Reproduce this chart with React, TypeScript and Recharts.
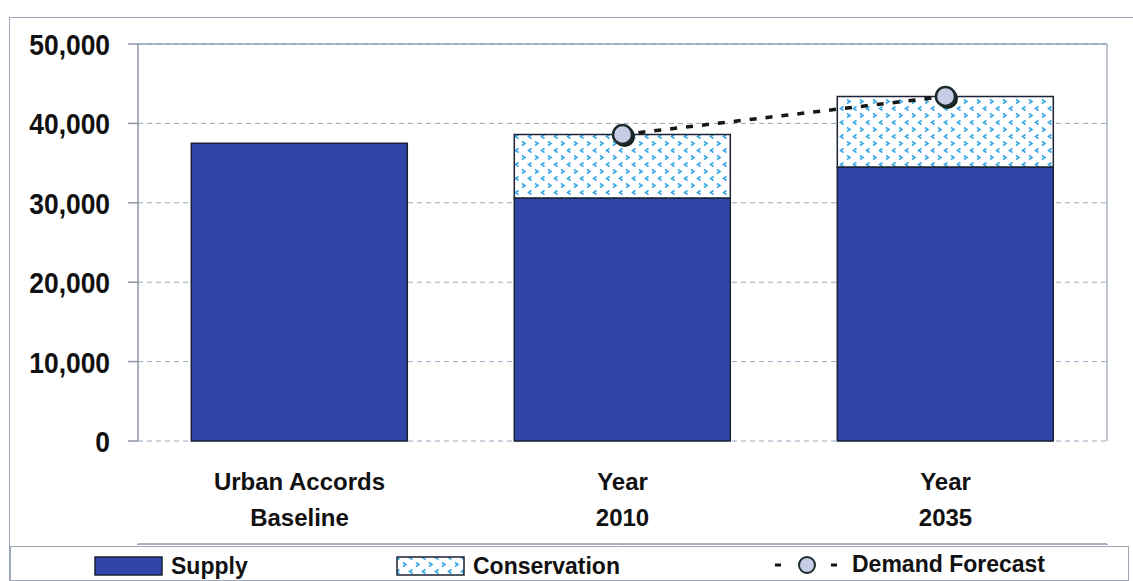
import React from 'react';
import { ComposedChart, Bar, Line, XAxis, YAxis, CartesianGrid, ReferenceLine } from 'recharts';

// acre-feet per year
const categories = ['Urban Accords Baseline', 'Year 2010', 'Year 2035'];
const categoryLines = [
  ['Urban Accords', 'Baseline'],
  ['Year', '2010'],
  ['Year', '2035'],
];
const supply = [37500, 30600, 34500];
const conservation = [0, 8000, 8900];
const demandForecast: (number | null)[] = [null, 38600, 43400];
const yTicks = [0, 10000, 20000, 30000, 40000, 50000];

const data = categories.map((name, i) => ({
  name,
  supply: supply[i],
  conservation: conservation[i],
  demand: demandForecast[i],
}));

const boundaryTicks = categories.map((_, i) => i).concat(categories.length);

const FONT = '"Liberation Sans", Arial, sans-serif';
const SUPPLY_BLUE = '#2f45a7';
const BAR_EDGE = '#1b2235';
const DOT_BLUE = '#c6cde6';
const BORDER = '#9ea8b8';

// narrow bold numbers on the value axis
const YTick = (props: any) => {
  const { x, y, payload } = props;
  return (
    <g transform={`translate(${x},${y}) scale(0.88,1)`}>
      <text x={0} y={0} dy={11} textAnchor="end" fontFamily={FONT} fontWeight={700} fontSize={30} fill="#111">
        {payload.value.toLocaleString('en-US')}
      </text>
    </g>
  );
};

const CategoryTick = (props: any) => {
  const { x, y, index } = props;
  const lines = categoryLines[index] || [];
  return (
    <g>
      {lines.map((line, i) => (
        <text key={i} x={x} y={y + 41 + i * 36} textAnchor="middle" fontFamily={FONT} fontWeight={700} fontSize={24} fill="#111">
          {line}
        </text>
      ))}
    </g>
  );
};

const DemandDot = (props: any) => {
  const { cx, cy, value } = props;
  if (value == null || cx == null || cy == null) return null;
  return (
    <g>
      <circle cx={cx + 2} cy={cy + 2} r={10.5} fill="#142020" />
      <circle cx={cx} cy={cy} r={9.5} fill={DOT_BLUE} stroke="#1d2b2b" strokeWidth={2.5} />
    </g>
  );
};

const PatternDefs = () => (
  <defs>
    <pattern id="conservationFill" width={13} height={14} patternUnits="userSpaceOnUse">
      <rect width={13} height={14} fill="#fff" />
      <path d="M2 1.5 L5 3.5 L2 5.5" fill="none" stroke="#38a9e6" strokeWidth={1.6} />
      <path d="M11.5 8.5 L8.5 10.5 L11.5 12.5" fill="none" stroke="#38a9e6" strokeWidth={1.6} />
    </pattern>
  </defs>
);

const LegendBox = () => (
  <div
    style={{
      position: 'absolute',
      left: 10,
      top: 546,
      width: 1117,
      height: 33,
      border: `1px solid ${BORDER}`,
      background: '#fff',
    }}
  >
    <svg width={1117} height={33} style={{ position: 'absolute', left: 0, top: 0 }}>
      <PatternDefs />
      <rect x={84} y={10} width={67} height={18} fill={SUPPLY_BLUE} stroke={BAR_EDGE} strokeWidth={1.5} />
      <text x={160} y={27} fontFamily={FONT} fontWeight={700} fontSize={23} fill="#111">Supply</text>
      <rect x={386} y={10} width={67} height={18} fill="url(#conservationFill)" stroke={BAR_EDGE} strokeWidth={1.5} />
      <text x={462} y={27} fontFamily={FONT} fontWeight={700} fontSize={23} fill="#111">Conservation</text>
      <line x1={764} y1={18} x2={770} y2={18} stroke="#111" strokeWidth={3} />
      <circle cx={796} cy={18} r={8} fill={DOT_BLUE} stroke="#1d2b2b" strokeWidth={2} />
      <line x1={820} y1={18} x2={826} y2={18} stroke="#111" strokeWidth={3} />
      <text x={841} y={25} fontFamily={FONT} fontWeight={700} fontSize={23} fill="#111">Demand Forecast</text>
    </svg>
  </div>
);

export default function App() {
  return (
    <div style={{ position: 'absolute', left: 0, top: 0, width: 1133, height: 581, background: '#fff', overflow: 'hidden' }}>
      <div
        style={{
          position: 'absolute',
          left: 9,
          top: 17,
          width: 1130,
          height: 600,
          borderLeft: `1px solid ${BORDER}`,
          borderTop: `1px solid ${BORDER}`,
        }}
      />
      <div style={{ position: 'absolute', left: 0, top: 0 }}>
        <ComposedChart width={1133} height={545} data={data} margin={{ top: 44, right: 25, left: 0, bottom: 0 }} barCategoryGap="16.5%">
          <PatternDefs />
          <CartesianGrid vertical={false} stroke="#93a7c0" strokeDasharray="5 4" yAxisId="left" />
          <XAxis
            xAxisId="edges"
            type="number"
            domain={[0, categories.length]}
            ticks={boundaryTicks}
            tickFormatter={() => ''}
            height={1}
            tickSize={8}
            tickLine={{ stroke: '#8f97a3', strokeWidth: 1.5 }}
            axisLine={{ stroke: '#8f97a3', strokeWidth: 1.5 }}
          />
          <XAxis dataKey="name" height={103} axisLine={false} tickLine={false} tick={<CategoryTick />} interval={0} />
          <YAxis
            yAxisId="left"
            width={138}
            domain={[0, 50000]}
            ticks={yTicks}
            interval={0}
            tickSize={10}
            tickMargin={18}
            tick={<YTick />}
            tickLine={{ stroke: '#8f97a3', strokeWidth: 1.5 }}
            axisLine={{ stroke: '#8f97a3', strokeWidth: 1.5 }}
          />
          <YAxis yAxisId="right" orientation="right" width={1} domain={[0, 50000]} tick={false} tickLine={false} axisLine={{ stroke: '#a9b3c6', strokeWidth: 1.5 }} />
          <ReferenceLine yAxisId="left" y={50000} stroke="#8ea2bb" strokeWidth={1.5} />
          <Bar yAxisId="left" dataKey="supply" stackId="a" fill={SUPPLY_BLUE} stroke={BAR_EDGE} strokeWidth={1.5} isAnimationActive={false} />
          <Bar yAxisId="left" dataKey="conservation" stackId="a" fill="url(#conservationFill)" stroke={BAR_EDGE} strokeWidth={1.5} isAnimationActive={false} />
          <Line
            yAxisId="left"
            type="linear"
            dataKey="demand"
            stroke="#161616"
            strokeWidth={3.5}
            strokeDasharray="7 9"
            connectNulls={false}
            dot={<DemandDot />}
            activeDot={false}
            isAnimationActive={false}
          />
        </ComposedChart>
      </div>
      <LegendBox />
    </div>
  );
}
